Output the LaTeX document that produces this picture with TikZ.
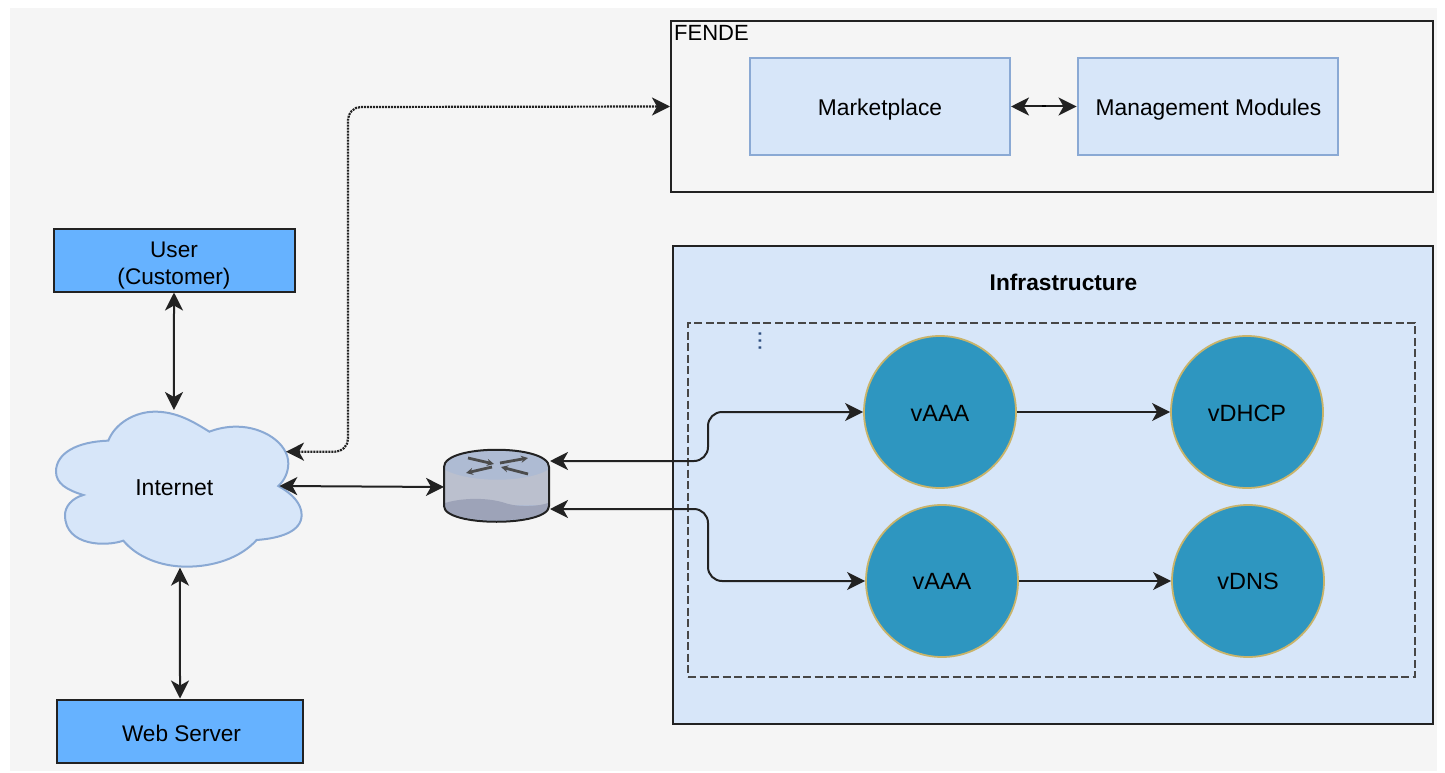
\documentclass[tikz,border=0pt]{standalone}
\usepackage{fontspec}
\setmainfont{Liberation Sans}
\usetikzlibrary{arrows.meta}
\definecolor{panel}{HTML}{F5F5F5}
\definecolor{lblue}{HTML}{D7E6F9}
\definecolor{lborder}{HTML}{8AA9D4}
\definecolor{mblue}{HTML}{66B2FF}
\definecolor{teal}{HTML}{2E96C0}
\definecolor{gold}{HTML}{C9B46A}
\definecolor{ink}{HTML}{222222}
\definecolor{rtop}{HTML}{AEBBD3}
\definecolor{rbody}{HTML}{BBC0CE}
\definecolor{rbase}{HTML}{9DA3B8}
\definecolor{dotc}{HTML}{2F4F80}
\newcommand{\dn}[2]{\raisebox{-#1}[\height][\depth]{#2}}
\tikzset{
  conn/.style={draw=ink,line width=2pt,rounded corners=14pt},
  both/.style={{Stealth[length=18pt,width=18pt,inset=5pt]}-{Stealth[length=18pt,width=18pt,inset=5pt]}},
  fwd/.style={-{Stealth[length=18pt,width=18pt,inset=5pt]}},
  actor/.style={draw=ink,line width=2pt,fill=mblue,minimum width=241pt,minimum height=63pt,align=center,font=\fontsize{22.6}{26}\selectfont,inner sep=0pt},
  module/.style={draw=lborder,line width=2pt,fill=lblue,minimum width=260pt,minimum height=96pt,font=\fontsize{22.8}{26}\selectfont,inner sep=0pt},
  vnf/.style={circle,draw=gold,line width=1.8pt,fill=teal,minimum size=152pt,inner sep=0pt,font=\fontsize{23.5}{26}\selectfont}
}
\begin{document}
\begin{tikzpicture}[x=1pt,y=-1pt]
\useasboundingbox (0,0) rectangle (1445,773);
\fill[white] (0,0) rectangle (1445,773);
\fill[panel] (10,8) rectangle (1437,771);
% FENDE
\node[draw=ink,line width=2pt,fill=panel,minimum width=762pt,minimum height=171pt,inner sep=0pt] (fende) at (1052,106.5) {};
\node[anchor=north west,inner sep=0pt,font=\fontsize{22}{25}\selectfont] (fendelabel) at (674,25) {FENDE};
\node[module] (market) at (880,106.5) {\dn{3pt}{Marketplace}};
\node[module] (mgmt) at (1207.5,106.5) {\dn{3pt}{\hspace{2pt}Management Modules}};
% Infrastructure
\node[draw=ink,line width=2pt,fill=lblue,minimum width=760pt,minimum height=478pt,inner sep=0pt] (infra) at (1053,485) {};
\node[inner sep=0pt,font=\fontsize{22.7}{26}\selectfont\bfseries] (infralabel) at (1063.5,282) {Infrastructure};
\node[draw=black!72,line width=2pt,dash pattern=on 8pt off 3.5pt,minimum width=727pt,minimum height=354pt,inner sep=0pt] (zone) at (1051.5,499.5) {};
\node[inner sep=0pt,font=\fontsize{25}{25}\selectfont,text=dotc] (dots) at (760,341) {\rotatebox{90}{...}};
% Actors
\node[actor] (user) at (174,260) {\dn{5pt}{User}\\\dn{6pt}{(Customer)}};
\node[actor,minimum width=246pt] (web) at (180,731) {\dn{2pt}{\hspace{3pt}Web Server}};
% Cloud
\begin{scope}[shift={(40,400)},x=0.3333pt,y=-0.3333pt]
\filldraw[draw=lborder,line width=2pt,fill=lblue]
 (205,122) .. controls (225,70) and (285,35) .. (345,35)
 .. controls (410,35) and (460,65) .. (508,95)
 .. controls (535,85) and (560,80) .. (590,80)
 .. controls (670,80) and (745,130) .. (745,190)
 .. controls (745,215) and (735,240) .. (715,258)
 .. controls (755,280) and (785,310) .. (785,345)
 .. controls (785,395) and (720,415) .. (650,420)
 .. controls (600,475) and (520,500) .. (440,500)
 .. controls (360,500) and (290,470) .. (250,422)
 .. controls (200,440) and (75,440) .. (75,345)
 .. controls (75,320) and (95,295) .. (130,285)
 .. controls (80,270) and (48,250) .. (48,215)
 .. controls (48,160) and (110,125) .. (205,122) -- cycle;
\coordinate (cloudR) at (718,258);
\coordinate (cloudD) at (738,155);
\coordinate (cloudT) at (402,30);
\coordinate (cloudB) at (420,503);
\node[inner sep=0pt,font=\fontsize{23}{26}\selectfont] (internet) at (403,262) {Internet};
\end{scope}
% Router
\coordinate (rL) at (444,487);
\coordinate (rR1) at (550,461);
\coordinate (rR2) at (550,509);
\fill[rtop] (444,467) .. controls (444,444) and (549,444) .. (549,467) -- (549,506)
 .. controls (549,527) and (444,527) .. (444,506) -- cycle;
\fill[rbody] (445,470) .. controls (470,483) and (525,483) .. (548,470) -- (548,505) -- (445,505) -- cycle;
\fill[rbase] (445,503) .. controls (465,497) and (490,498) .. (505,503) .. controls (520,508) and (540,506) .. (548,503) -- (548,506) .. controls (548,525) and (445,525) .. (445,506) -- cycle;
\draw[draw=ink,line width=2pt] (444,467) .. controls (444,444) and (549,444) .. (549,467) -- (549,506) .. controls (549,527) and (444,527) .. (444,506) -- cycle;
\begin{scope}[line width=2.8pt,-{Stealth[length=7pt,width=7pt]}]
\draw[black!70] (468,458) -- (494,464);
\draw[black!70] (492,467) -- (466,473);
\draw[black!70] (500,463) -- (528,458);
\draw[black!70] (528,474) -- (501,467);
\end{scope}
% VNFs
\node[vnf] (a1) at (940,412) {\dn{1pt}{vAAA}};
\node[vnf] (a2) at (942,581) {vAAA};
\node[vnf] (d1) at (1247,412) {\dn{1pt}{vDHCP}};
\node[vnf] (d2) at (1248,581) {vDNS};
% Connectors
\draw[conn,both] (market.east) -- (mgmt.west);
\fill[black] (1041.5,105.5) rectangle (1046,107.5);
\draw[conn,both] (user.south) -- (cloudT);
\draw[conn,both] (web.north) -- (cloudB);
\draw[conn,both] (cloudR) -- (rL);
\draw[conn,both,densely dotted,line width=2.2pt,rounded corners=13pt] (cloudD) -- (348,451.7) -- (348,107) -- (fende.west |- market.west);
\draw[conn,both] (rR1) -- (708,461) -- (708,412) -- (a1.west);
\draw[conn,both] (rR2) -- (708,509) -- (708,581) -- (a2.west);
\draw[conn,fwd] (a1.east) -- (d1.west);
\draw[conn,fwd] (a2.east) -- (d2.west);
\end{tikzpicture}
\end{document}
